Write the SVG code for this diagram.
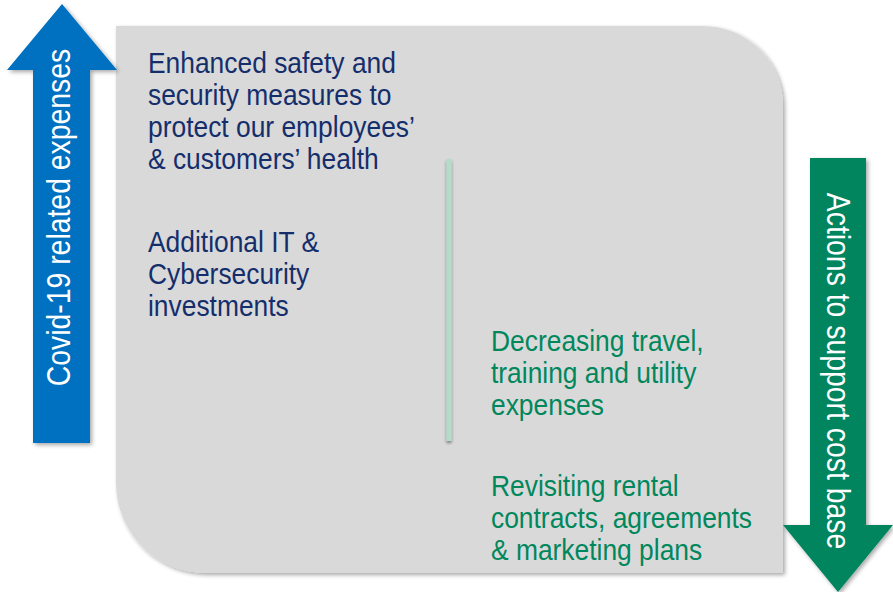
<svg xmlns="http://www.w3.org/2000/svg" width="893" height="592" viewBox="0 0 893 592">
  <defs>
    <filter id="shadow" x="-10%" y="-10%" width="130%" height="130%">
      <feGaussianBlur in="SourceAlpha" stdDeviation="2"/>
      <feOffset dx="2" dy="2" result="b"/>
      <feComponentTransfer><feFuncA type="linear" slope="0.35"/></feComponentTransfer>
      <feMerge><feMergeNode/><feMergeNode in="SourceGraphic"/></feMerge>
    </filter>
    <filter id="lineShadow" filterUnits="userSpaceOnUse" x="430" y="145" width="40" height="315">
      <feGaussianBlur in="SourceAlpha" stdDeviation="1.5"/>
      <feOffset dx="0" dy="2" result="b"/>
      <feComponentTransfer><feFuncA type="linear" slope="0.45"/></feComponentTransfer>
      <feMerge><feMergeNode/><feMergeNode in="SourceGraphic"/></feMerge>
    </filter>
  </defs>
  <style>
    text { font-family: "Liberation Sans", Arial, sans-serif; }
    .body { font-size: 29px; }
    .blue { fill: #142E6C; }
    .green { fill: #00875C; }
    .label { fill: #FFFFFF; font-size: 33px; }
  </style>

  <!-- background panel -->
  <g id="panel">
    <path d="M116,26 H703 A80,80 0 0 1 783,106 V573 H206 A90,90 0 0 1 116,483 Z" fill="#D9D9D9" filter="url(#shadow)"/>
  </g>

  <!-- divider between the two columns -->
  <g id="connectors">
    <rect x="446.5" y="159" width="5" height="282" fill="#B3DCC9" filter="url(#lineShadow)"/>
  </g>

  <!-- upward arrow: expenses -->
  <g id="arrow-up">
    <polygon points="33,443 33,70 7,70 62,4 117,70 90,70 90,443" fill="#0070C0" filter="url(#shadow)"/>
    <text class="label" transform="translate(70,217.5) rotate(-90) scale(0.86,1)" text-anchor="middle">Covid-19 related expenses</text>
  </g>

  <!-- downward arrow: cost base -->
  <g id="arrow-down">
    <polygon points="810,158 866,158 866,525 893,525 838,592 783,525 810,525" fill="#00855F" filter="url(#shadow)"/>
    <text class="label" transform="translate(827,371) rotate(90) scale(0.86,1)" text-anchor="middle">Actions to support cost base</text>
  </g>

  <g id="safety" class="body blue" transform="translate(148,0) scale(0.91,1)">
    <text x="0" y="73">Enhanced safety and</text>
    <text x="0" y="105">security measures to</text>
    <text x="0" y="137">protect our employees’</text>
    <text x="0" y="169">&amp; customers’ health</text>
  </g>

  <g id="it" class="body blue" transform="translate(148,0) scale(0.91,1)">
    <text x="0" y="252">Additional IT &amp;</text>
    <text x="0" y="284">Cybersecurity</text>
    <text x="0" y="316">investments</text>
  </g>

  <g id="travel" class="body green" transform="translate(491,0) scale(0.91,1)">
    <text x="0" y="351">Decreasing travel,</text>
    <text x="0" y="383">training and utility</text>
    <text x="0" y="415">expenses</text>
  </g>

  <g id="rental" class="body green" transform="translate(491,0) scale(0.91,1)">
    <text x="0" y="496">Revisiting rental</text>
    <text x="0" y="528">contracts, agreements</text>
    <text x="0" y="560">&amp; marketing plans</text>
  </g>
</svg>
